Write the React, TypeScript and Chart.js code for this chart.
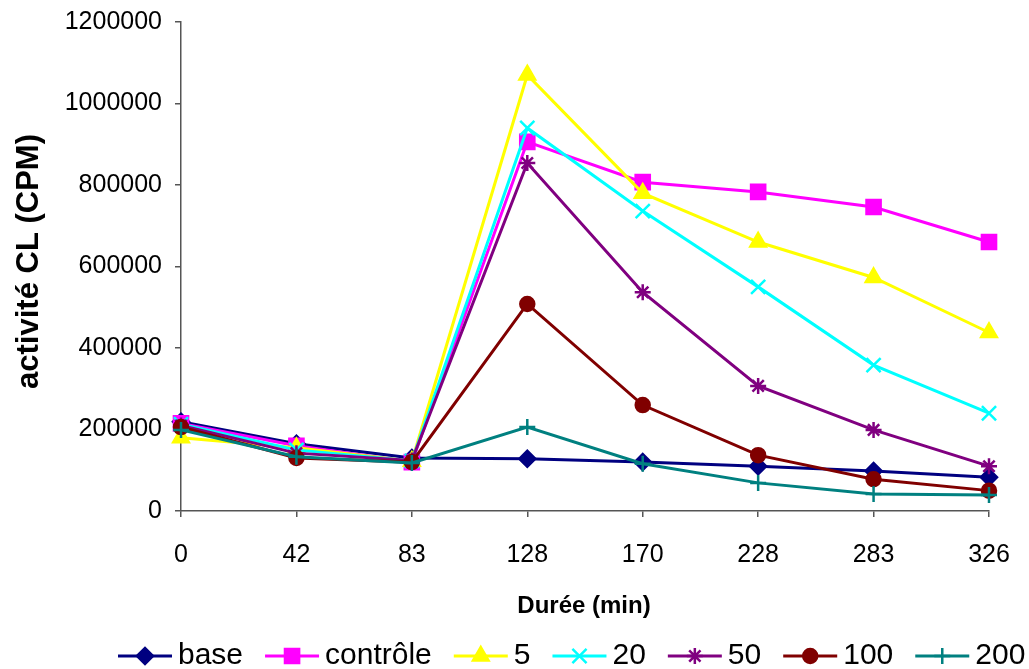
import React, { useEffect, useRef } from "react";
import { Chart, registerables } from "chart.js";
import { drawPoint } from "chart.js/helpers";

Chart.register(...registerables);

const categories = ["0", "42", "83", "128", "170", "228", "283", "326"];
const seriesNames = ["base", "contrôle", "5", "20", "50", "100", "200"];
const baseValues = [219000, 165000, 130000, 128000, 120000, 110000, 98000, 83000];
const controleValues = [215000, 160000, 120000, 906000, 807000, 783000, 746000, 660000];
const v5Values = [180000, 155000, 122000, 1070000, 780000, 660000, 573000, 438000];
const v20Values = [213000, 150000, 123000, 940000, 736000, 550000, 358000, 240000];
const v50Values = [210000, 142000, 124000, 854000, 537000, 307000, 199000, 110000];
const v100Values = [206000, 130000, 120000, 508000, 260000, 137000, 78000, 50000];
const v200Values = [199000, 133000, 118000, 206000, 116000, 69000, 42000, 39000];
const yTicks = { min: 0, max: 1200000, step: 200000 };
const xTitle = "Durée (min)";
const yTitle = "activité CL (CPM)";

const colors = ["#000080", "#FF00FF", "#FFFF00", "#00FFFF", "#800080", "#800000", "#008080"];
const styles = ["rectRot", "rect", "triangle", "crossRot", "star", "circle", "cross"];
const radii = [8, 10, 9, 10, 8, 7, 8];
const allValues = [baseValues, controleValues, v5Values, v20Values, v50Values, v100Values, v200Values];

const FONT = "'Liberation Sans', Arial, Helvetica, sans-serif";

const decorPlugin = {
  id: "decor",
  afterDraw(chart: any) {
    const ctx = chart.ctx;
    const ca = chart.chartArea;
    ctx.save();
    ctx.fillStyle = "#000";
    // x title
    ctx.font = `bold 24px ${FONT}`;
    ctx.textAlign = "center";
    ctx.textBaseline = "middle";
    ctx.fillText(xTitle, (ca.left + ca.right) / 2 - 1, 606);
    // y title
    ctx.save();
    ctx.translate(29, (ca.top + ca.bottom) / 2 - 5);
    ctx.rotate(-Math.PI / 2);
    ctx.font = `bold 31px ${FONT}`;
    ctx.fillText(yTitle, 0, 0);
    ctx.restore();
    // legend
    ctx.font = `30px ${FONT}`;
    ctx.textAlign = "left";
    ctx.textBaseline = "middle";
    let x = 118;
    const y = 656;
    chart.data.datasets.forEach((ds: any) => {
      ctx.strokeStyle = ds.borderColor;
      ctx.fillStyle = ds.borderColor;
      ctx.lineWidth = 3;
      ctx.beginPath();
      ctx.moveTo(x, y);
      ctx.lineTo(x + 54, y);
      ctx.stroke();
      ctx.lineWidth = 2.5;
      drawPoint(ctx, { pointStyle: ds.pointStyle, radius: ds.pointRadius, rotation: 0, borderWidth: 2.5 }, x + 27, y);
      ctx.fillStyle = "#000";
      ctx.fillText(ds.label, x + 60, y);
      const w = ctx.measureText(ds.label).width;
      x += 60 + w + 22;
    });
    ctx.restore();
  },
};

export default function App() {
  const ref = useRef<HTMLCanvasElement>(null);
  useEffect(() => {
    document.body.style.margin = "0";
    const canvas = ref.current!;
    const datasets = seriesNames.map((name, i) => ({
      label: name,
      data: allValues[i],
      borderColor: colors[i],
      backgroundColor: colors[i],
      pointBackgroundColor: colors[i],
      pointBorderColor: colors[i],
      pointStyle: styles[i],
      pointRadius: radii[i],
      pointBorderWidth: 2.5,
      borderWidth: 3,
      tension: 0,
      fill: false,
      order: seriesNames.length - 1 - i,
    }));
    const chart = new Chart(canvas, {
      type: "line",
      data: { labels: categories, datasets },
      options: {
        animation: false,
        responsive: false,
        devicePixelRatio: 1,
        layout: { padding: { left: 0, right: 40, top: 22, bottom: 88 } },
        plugins: { legend: { display: false }, tooltip: { enabled: false } },
        scales: {
          x: {
            type: "category",
            offset: false,
            afterFit: (s: any) => { s.height = 70; s.paddingLeft = 0; s.paddingRight = 0; },
            border: { color: "#555", width: 1.5 },
            grid: { display: true, drawOnChartArea: false, drawTicks: true, tickLength: 6, color: "#555", lineWidth: 1.5 },
            ticks: { color: "#000", font: { family: FONT, size: 25 }, padding: 23, maxRotation: 0, autoSkip: false },
          },
          y: {
            min: yTicks.min,
            max: yTicks.max,
            afterFit: (s: any) => { s.width = 181; s.paddingTop = 0; s.paddingBottom = 0; },
            border: { color: "#555", width: 1.5 },
            grid: { display: true, drawOnChartArea: false, drawTicks: true, tickLength: 6, color: "#555", lineWidth: 1.5 },
            ticks: {
              stepSize: yTicks.step,
              color: "#000",
              font: { family: FONT, size: 25 },
              padding: 13,
              callback: (v: any) => String(v),
            },
          },
        },
      },
      plugins: [decorPlugin],
    });
    return () => chart.destroy();
  }, []);
  return (
    <div style={{ width: 1029, height: 669, position: "relative" }}>
      <canvas ref={ref} width={1029} height={669} style={{ display: "block" }} />
    </div>
  );
}
